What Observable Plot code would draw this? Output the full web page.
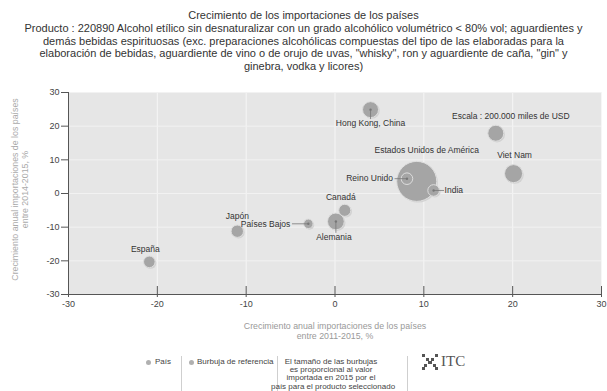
<!DOCTYPE html>
<html><head><meta charset="utf-8">
<script src="https://cdn.jsdelivr.net/npm/d3@7"></script>
<script src="https://cdn.jsdelivr.net/npm/@observablehq/plot@0.6"></script>
<style>
body{margin:0;width:607px;height:391px;position:relative;overflow:hidden;background:#fff;font-family:"Liberation Sans",Arial,sans-serif;}
#head{position:absolute;top:9px;left:0;width:607px;text-align:center;font-size:11px;line-height:12.8px;color:#333;white-space:nowrap;}
#chart{position:absolute;top:80px;left:0;}
.lg{position:absolute;font-size:8px;color:#444;line-height:8px;white-space:nowrap;}
.dot{position:absolute;width:5px;height:5px;border-radius:50%;background:#b0b0b0;}
.sep{position:absolute;width:1px;background:#cfcfcf;top:356px;height:35px;}
</style></head>
<body>
<div id="head"></div>
<div id="chart"></div>
<div class="dot" style="left:146px;top:360px"></div>
<div class="lg" style="left:155px;top:358px">País</div>
<div class="sep" style="left:181px"></div>
<div class="dot" style="left:189px;top:360px"></div>
<div class="lg" style="left:197px;top:358px">Burbuja de referencia</div>
<div class="sep" style="left:277px"></div>
<div class="lg" id="note" style="left:271px;width:120px;top:358px;text-align:center;line-height:8.2px"></div>
<div class="sep" style="left:407px"></div>
<div style="position:absolute;left:422px;top:353px;display:flex;align-items:center">
<svg width="16" height="16" viewBox="0 0 16 16"><g fill="#555"><rect x="0" y="0" width="3" height="3"/><rect x="4" y="4" width="3" height="3"/><rect x="9" y="4" width="3" height="3"/><rect x="13" y="0" width="3" height="3"/><rect x="6" y="7" width="4" height="3"/><rect x="2" y="10" width="3" height="3"/><rect x="11" y="10" width="3" height="3"/><rect x="0" y="13" width="3" height="3"/><rect x="13" y="13" width="3" height="3"/></g></svg>
<span style="font-family:'Liberation Serif',serif;font-size:15px;color:#555;margin-left:3px">ITC</span>
</div>
<script>
const titleText = "Crecimiento de los importaciones de los países";
const subtitleLines = [
  "Producto : 220890 Alcohol etílico sin desnaturalizar con un grado alcohólico volumétrico < 80% vol; aguardientes y",
  "demás bebidas espirituosas (exc. preparaciones alcohólicas compuestas del tipo de las elaboradas para la",
  "elaboración de bebidas, aguardiente de vino o de orujo de uvas, \"whisky\", ron y aguardiente de caña, \"gin\" y",
  "ginebra, vodka y licores)"
];
const xLabelLines = ["Crecimiento anual importaciones de los países", "entre 2011-2015, %"];
const yLabelLines = ["Crecimiento anual importaciones de los países", "entre 2014-2015, %"];
const noteLines = ["El tamaño de las burbujas", "es proporcional al valor", "importada en 2015 por el", "país para el producto seleccionado"];

const countries = ["España", "Japón", "Países Bajos", "Alemania", "Canadá", "Reino Unido", "Estados Unidos de América", "India", "Hong Kong, China", "Viet Nam"];
const growth20112015 = [-20.9, -11.0, -3.0, 0.1, 1.1, 8.1, 9.2, 11.1, 4.0, 20.1];
const growth20142015 = [-20.3, -11.2, -9.0, -8.3, -5.0, 4.4, 3.6, 0.9, 24.9, 5.9];
const imports2015 = [105000, 120000, 70000, 220000, 115000, 105000, 1250000, 105000, 200000, 255000];

const refName = "Escala : 200.000 miles de USD";
const refX = 18.1, refY = 17.9, refValue = 200000;

const xTicks = [-30, -20, -10, 0, 10, 20, 30];
const yTicks = [-30, -20, -10, 0, 10, 20, 30];

// label layout (pixel offsets)
const labelPlacement = {
  "España": {dx: -4, dy: -13, anchor: "middle"},
  "Japón": {dx: 0, dy: -15, anchor: "middle"},
  "Países Bajos": {dx: -18, dy: 0, anchor: "end", leader: {len: 16, angle: 270}},
  "Alemania": {dx: -2, dy: 16, anchor: "middle", leader: {len: 11, angle: 180}},
  "Canadá": {dx: -4, dy: -13, anchor: "middle"},
  "Reino Unido": {dx: -14, dy: 0, anchor: "end", leader: {len: 12, angle: 270}},
  "Estados Unidos de América": {dx: 10, dy: -31, anchor: "middle"},
  "India": {dx: 11, dy: 0, anchor: "start", leader: {len: 10, angle: 90}},
  "Hong Kong, China": {dx: 0, dy: 14, anchor: "middle", leader: {len: 9, angle: 180}},
  "Viet Nam": {dx: 1, dy: -18, anchor: "middle"},
  [refName]: {dx: 15, dy: -17, anchor: "middle"}
};

document.getElementById("head").innerHTML = [titleText, ...subtitleLines].map(s => s.replace(/&/g,"&amp;").replace(/</g,"&lt;")).join("<br>");
document.getElementById("note").innerHTML = noteLines.join("<br>");

const rows = countries.map((name, i) => ({name, x: growth20112015[i], y: growth20142015[i], value: imports2015[i]}));
rows.push({name: refName, x: refX, y: refY, value: refValue});
rows.sort((a, b) => b.value - a.value);

const leaderRows = rows.filter(d => labelPlacement[d.name].leader);
const lineShape = {draw(context, l) { context.moveTo(0, 0); context.lineTo(0, -l); }};

const labelMarks = rows.map(d => {
  const p = labelPlacement[d.name];
  return Plot.text([d], {x: "x", y: "y", text: "name", dx: p.dx, dy: p.dy, textAnchor: p.anchor, fontSize: 8.5, fill: "#333"});
});

const fmt = d => String(d);

const chart = Plot.plot({
  width: 607,
  height: 265,
  marginTop: 12,
  marginBottom: 51,
  marginLeft: 68,
  marginRight: 6,
  style: {fontFamily: "'Liberation Sans', Arial, sans-serif", fontSize: "9px", color: "#444", background: "transparent"},
  x: {domain: [-30, 30]},
  y: {domain: [-30, 30]},
  r: {type: "sqrt", domain: [0, 1250000], range: [0, 20]},
  length: {type: "identity"},
  marks: [
    Plot.frame({fill: "#e6e6e6", stroke: null}),
    Plot.gridX(xTicks, {stroke: "#f6f6f6", strokeOpacity: 1}),
    Plot.gridY(yTicks, {stroke: "#f2f2f2", strokeOpacity: 1}),
    Plot.dot(rows, {x: "x", y: "y", r: "value", fill: "#d2d2d2", dx: 1.2, dy: 1.2}),
    Plot.dot(rows, {x: "x", y: "y", r: "value", fill: "#a5a5a5", stroke: "#dedede", strokeWidth: 1}),
    Plot.vector(leaderRows, {x: "x", y: "y", length: d => labelPlacement[d.name].leader.len, rotate: d => labelPlacement[d.name].leader.angle, anchor: "start", shape: lineShape, stroke: "#777", strokeWidth: 0.8}),
    Plot.dot(leaderRows, {x: "x", y: "y", r: 1.2, fill: "#777"}),
    ...labelMarks,
    Plot.ruleX([-30], {stroke: "#555"}),
    Plot.ruleY([-30], {stroke: "#555"}),
    Plot.axisY({ticks: yTicks, tickSize: 7, tickPadding: 2, tickFormat: fmt, label: null, stroke: "#555", fill: "#444"}),
    Plot.axisX({ticks: xTicks, tickSize: 3, tickPadding: 3, tickFormat: fmt, label: null, stroke: "#555", fill: "#444"}),
    Plot.axisX({ticks: xTicks, tickSize: -8, tickFormat: () => "", label: null, stroke: "#555"}),
    Plot.text([xLabelLines.join("\n")], {frameAnchor: "bottom", dy: 36, textAnchor: "middle", lineAnchor: "middle", lineHeight: 1.2, fontSize: 8.8, fill: "#999", text: d => d}),
    Plot.text([yLabelLines.join("\n")], {frameAnchor: "left", dx: -49, dy: -4, rotate: -90, textAnchor: "middle", lineAnchor: "middle", lineHeight: 1.2, fontSize: 8.8, fill: "#aaa", text: d => d})
  ]
});
document.getElementById("chart").appendChild(chart);
</script>
</body></html>
